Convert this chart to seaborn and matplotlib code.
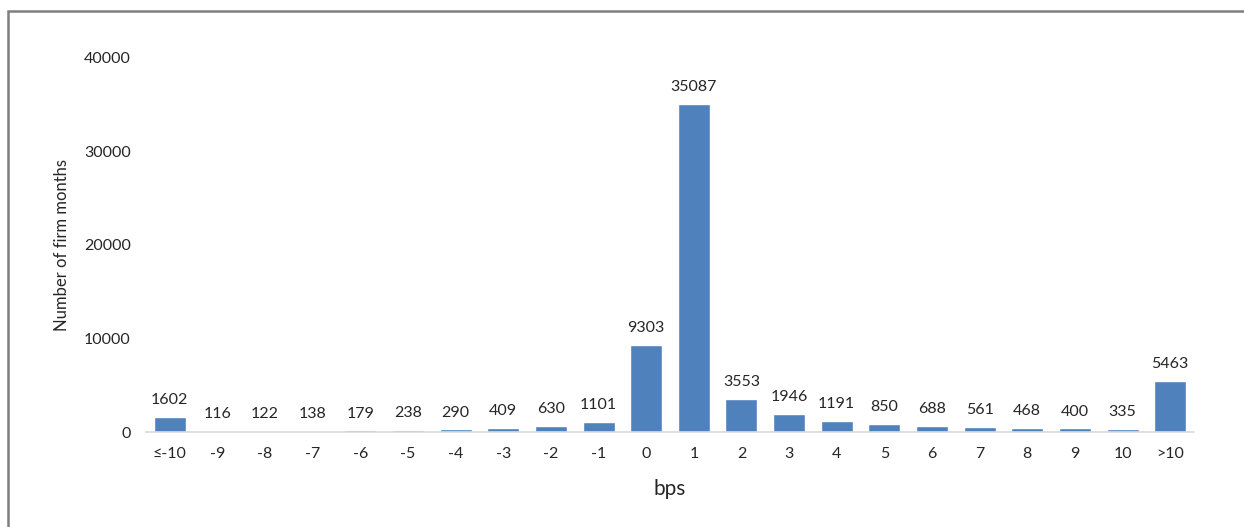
import matplotlib
matplotlib.use("Agg")
import matplotlib.pyplot as plt
from matplotlib.patches import Rectangle
import seaborn as sns
import pandas as pd

# Distribution of firm months by spread change (bps)
categories = ["≤-10", "-9", "-8", "-7", "-6", "-5", "-4", "-3", "-2", "-1", "0",
              "1", "2", "3", "4", "5", "6", "7", "8", "9", "10", ">10"]
counts = [1602, 116, 122, 138, 179, 238, 290, 409, 630, 1101, 9303,
          35087, 3553, 1946, 1191, 850, 688, 561, 468, 400, 335, 5463]
y_ticks = [0, 10000, 20000, 30000, 40000]

sns.set_style("white")
plt.rcParams["font.family"] = ["Lato", "DejaVu Sans"]
text_color = "#262626"

df = pd.DataFrame({"bps": categories, "count": counts})

fig = plt.figure(figsize=(12.44, 5.27), dpi=100)
ax = fig.add_axes([146 / 1244, 95 / 527, 1048 / 1244, 374 / 527])

sns.barplot(data=df, x="bps", y="count", color="#4F81BD", saturation=1,
            width=0.67, ax=ax, order=categories)

ax.set_ylim(0, 40000)
ax.set_xlim(-0.5, len(categories) - 0.5)
ax.set_yticks(y_ticks)
ax.set_yticklabels([str(t) for t in y_ticks])
ax.tick_params(axis="y", length=0, pad=11, labelsize=11.5, labelcolor=text_color)
ax.tick_params(axis="x", length=0, pad=11, labelsize=11.5, labelcolor=text_color)

for side in ["top", "right", "left"]:
    ax.spines[side].set_visible(False)
ax.spines["bottom"].set_color("#d9d9d9")
ax.spines["bottom"].set_linewidth(1.2)

ax.bar_label(ax.containers[0], labels=[str(v) for v in counts], padding=7,
             fontsize=11.5, color=text_color)

ax.set_xlabel("bps", fontsize=15, color=text_color, labelpad=13)
ax.set_ylabel("Number of firm months", fontsize=12, color=text_color, labelpad=10)

# Chart frame
fig.patches.append(Rectangle((8 / 1244, -0.05), 1.2, 1.05 - 11 / 527,
                             transform=fig.transFigure, fill=False,
                             edgecolor="#7f7f7f", linewidth=1.8))

fig.savefig("out.png", dpi=100, facecolor="white")
